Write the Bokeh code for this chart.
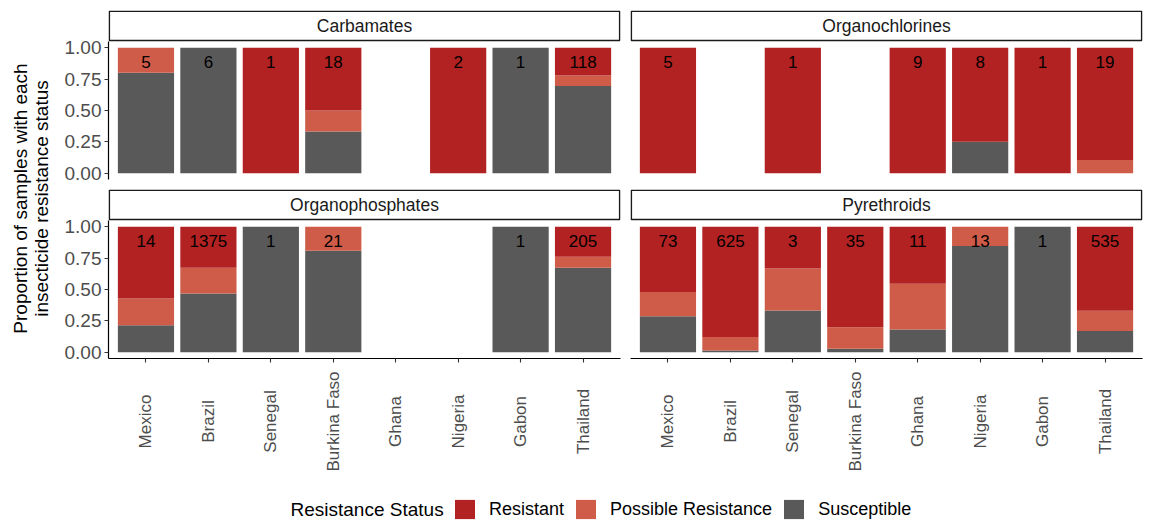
import math
from bokeh.plotting import figure
from bokeh.models import (ColumnDataSource, Range1d, FixedTicker, Label, Legend,
                          LegendItem, PrintfTickFormatter, BoxAnnotation)
from bokeh.layouts import row, column
from bokeh.core.properties import value
from bokeh.embed import file_html
from bokeh.resources import INLINE

# ---------------- data ----------------
countries = ["Mexico", "Brazil", "Senegal", "Burkina Faso", "Ghana", "Nigeria", "Gabon", "Thailand"]
insecticide_classes = ["Carbamates", "Organochlorines", "Organophosphates", "Pyrethroids"]
status_labels = ["Resistant", "Possible Resistance", "Susceptible"]
status_colors = ["#B22222", "#CF5C48", "#595959"]
y_ticks = [0.0, 0.25, 0.5, 0.75, 1.0]
y_tick_labels = ["0.00", "0.25", "0.50", "0.75", "1.00"]
y_axis_title = ["Proportion of samples with each", "insecticide resistance status"]
legend_title = "Resistance Status"

# sample counts per country (None = no samples)
carbamates_resistant = [0, 0, 1, 9, None, 2, 0, 26]
carbamates_possible = [1, 0, 0, 3, None, 0, 0, 10]
carbamates_susceptible = [4, 6, 0, 6, None, 0, 1, 82]

organochlorines_resistant = [5, None, 1, None, 9, 6, 1, 17]
organochlorines_possible = [0, None, 0, None, 0, 0, 0, 2]
organochlorines_susceptible = [0, None, 0, None, 0, 2, 0, 0]

organophosphates_resistant = [8, 448, 0, 0, None, None, 0, 49]
organophosphates_possible = [3, 282, 0, 4, None, None, 0, 18]
organophosphates_susceptible = [3, 645, 1, 17, None, None, 1, 138]

pyrethroids_resistant = [38, 549, 1, 28, 5, 0, 0, 358]
pyrethroids_possible = [14, 68, 1, 6, 4, 2, 0, 87]
pyrethroids_susceptible = [21, 8, 1, 1, 2, 11, 1, 90]

panel_data = [
    (carbamates_resistant, carbamates_possible, carbamates_susceptible),
    (organochlorines_resistant, organochlorines_possible, organochlorines_susceptible),
    (organophosphates_resistant, organophosphates_possible, organophosphates_susceptible),
    (pyrethroids_resistant, pyrethroids_possible, pyrethroids_susceptible),
]

# ---------------- style ----------------
FONT = "Liberation Sans"
FW, FH = 512, 138          # data panel size in px
STRIP = 31                 # strip band (incl. 1px gap) above each panel
PXU = FH / 1.1             # px per unit on the y scale
XLAB_H = 116               # height of the country-label band
XLAB_CENTER = 53           # px from the top of that band to the label centres
positions = [i + 1 for i in range(len(countries))]


def borders(left):
    return dict(min_border_left=50 if left else 9, min_border_right=1 if left else 2)


def base_fig(left, fh, top=0, bottom=0, xr=None, yr=None, xloc=None, yloc=None):
    f = figure(frame_width=FW, frame_height=fh, toolbar_location=None, output_backend="svg",
               x_range=xr or Range1d(0, 1), y_range=yr or Range1d(0, 1),
               x_axis_location=xloc, y_axis_location=yloc,
               min_border_top=top, min_border_bottom=bottom, **borders(left))
    f.grid.visible = False
    f.outline_line_color = None
    f.background_fill_color = "white"
    f.border_fill_color = "white"
    return f


def style_axis(ax):
    ax.axis_line_color = "black"
    ax.axis_line_width = 1.2
    ax.major_tick_line_color = "#333333"
    ax.major_tick_line_width = 1.1
    ax.major_tick_out = 4
    ax.major_tick_in = 0
    ax.minor_tick_line_color = None


def panel(title, R, P, S, left, bottom):
    xs, rr, pp, ss, nn = [], [], [], [], []
    for i, (a, b, c) in enumerate(zip(R, P, S)):
        if a is None:
            continue
        t = a + b + c
        xs.append(positions[i])
        rr.append(a / t)
        pp.append(b / t)
        ss.append(c / t)
        nn.append(str(t))
    src = ColumnDataSource(dict(x=xs, r=rr, p=pp, s=ss, n=nn, ly=[0.89] * len(xs)))
    f = base_fig(left, FH + STRIP, top=1 if bottom else 10, bottom=10 if bottom else 9,
                 xr=Range1d(0.4, 8.6), yr=Range1d(-0.05, 1.05 + STRIP / PXU),
                 xloc="below" if bottom else None, yloc="left" if left else None)
    f.vbar_stack(["s", "p", "r"], x="x", width=0.9, source=src,
                 fill_color=[status_colors[2], status_colors[1], status_colors[0]],
                 line_color=None)
    f.text(x="x", y="ly", text="n", source=src, text_align="center", text_baseline="middle",
           text_font=value(FONT), text_font_size="17px", text_color="black")
    # facet strip above the panel
    f.add_layout(BoxAnnotation(left=0.8, right=FW - 0.8, bottom=FH + 1, top=FH + STRIP - 0.8,
                               left_units="screen", right_units="screen",
                               bottom_units="screen", top_units="screen",
                               fill_color="white", fill_alpha=1.0,
                               line_color="#1A1A1A", line_alpha=1.0, line_width=1.6))
    f.add_layout(Label(x=FW / 2, y=FH + 16, x_units="screen", y_units="screen", text=title,
                       text_align="center", text_baseline="middle", text_font=FONT,
                       text_font_size="17.5px", text_color="#1A1A1A"))
    if left:
        ax = f.yaxis[0]
        style_axis(ax)
        ax.bounds = (-0.05, 1.05)
        ax.ticker = FixedTicker(ticks=y_ticks)
        ax.formatter = PrintfTickFormatter(format="%.2f")
        ax.major_label_overrides = dict(zip(y_ticks, y_tick_labels))
        ax.major_label_standoff = 3
        ax.major_label_text_font = FONT
        ax.major_label_text_font_size = "19px"
        ax.major_label_text_color = "#4D4D4D"
    if bottom:
        ax = f.xaxis[0]
        style_axis(ax)
        ax.ticker = FixedTicker(ticks=positions)
        ax.major_label_overrides = {p: "" for p in positions}
        ax.major_label_standoff = 0
        ax.major_label_text_font_size = "1px"
    return f


def xlabels(left):
    f = base_fig(left, XLAB_H, xr=Range1d(0.4, 8.6), yr=Range1d(0, XLAB_H))
    src = ColumnDataSource(dict(x=positions, y=[XLAB_H - XLAB_CENTER] * len(positions),
                                t=countries))
    f.text(x="x", y="y", text="t", source=src, angle=math.pi / 2, text_align="center",
           text_baseline="middle", text_font=value(FONT), text_font_size="17px",
           text_color="#4D4D4D")
    return f


pTL = panel(insecticide_classes[0], *panel_data[0], left=True, bottom=False)
pTR = panel(insecticide_classes[1], *panel_data[1], left=False, bottom=False)
pBL = panel(insecticide_classes[2], *panel_data[2], left=True, bottom=True)
pBR = panel(insecticide_classes[3], *panel_data[3], left=False, bottom=True)
xBL = xlabels(True)
xBR = xlabels(False)

grid = column(row(pTL, pTR), row(pBL, pBR), row(xBL, xBR))

GRID_H = (10 + FH + STRIP + 9) + (1 + FH + STRIP + 10) + XLAB_H
yt = figure(width=58, height=GRID_H, toolbar_location=None, output_backend="svg",
            x_range=Range1d(0, 1), y_range=Range1d(0, 1), x_axis_location=None,
            y_axis_location=None, min_border=0)
yt.grid.visible = False
yt.outline_line_color = None
for xpos, line in zip([20, 41], y_axis_title):
    yt.add_layout(Label(x=xpos, y=GRID_H - 198, x_units="screen", y_units="screen", text=line,
                        angle=math.pi / 2, text_align="center", text_baseline="middle",
                        text_font=FONT, text_font_size="19px", text_color="black"))

LEG_H = 521 - GRID_H
lg = figure(width=1144, height=LEG_H, toolbar_location=None, output_backend="svg",
            x_range=Range1d(0, 1), y_range=Range1d(0, 1), x_axis_location=None,
            y_axis_location=None, min_border=0)
lg.grid.visible = False
lg.outline_line_color = None
items = []
nan = float("nan")
for lab, col in zip(status_labels, status_colors):
    r = lg.quad(left=[nan], right=[nan], top=[nan], bottom=[nan], fill_color=col, line_color=None)
    items.append(LegendItem(label=lab, renderers=[r]))
legend = Legend(items=items, orientation="horizontal", location=(452, 0),
                glyph_width=25, glyph_height=24, label_standoff=12, spacing=9,
                padding=0, margin=0, border_line_color=None, background_fill_alpha=0,
                label_text_font=FONT, label_text_font_size="18px", label_text_color="black")
lg.add_layout(legend)
lg.add_layout(Label(x=290, y=12, x_units="screen", y_units="screen", text=legend_title,
                    text_align="left", text_baseline="middle", text_font=FONT,
                    text_font_size="19px", text_color="black"))

layout = column(row(yt, grid), lg)

open("out.html", "w").write(file_html(layout, INLINE))
